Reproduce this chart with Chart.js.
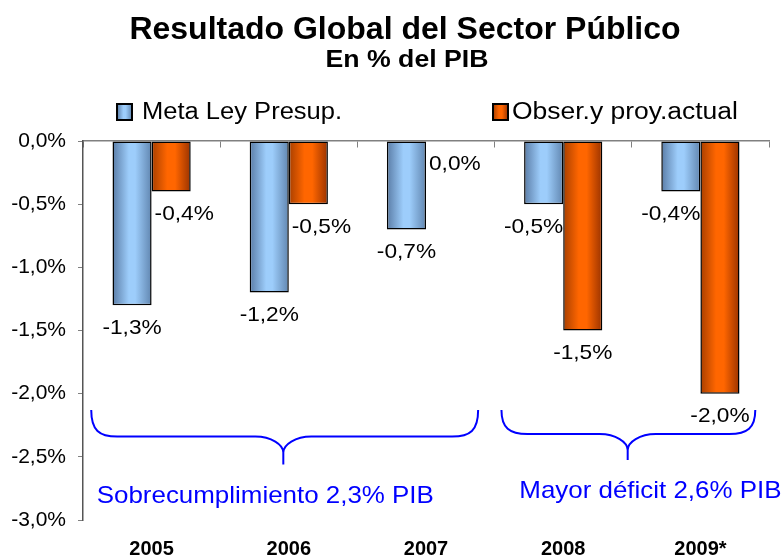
<!DOCTYPE html>
<html>
<head>
<meta charset="utf-8">
<title>Resultado Global del Sector Público</title>
<script src="https://cdn.jsdelivr.net/npm/chart.js@4.4.1/dist/chart.umd.min.js"></script>
<style>
  html, body { margin: 0; padding: 0; background: #fff; }
  #wrap { width: 783px; height: 559px; }
</style>
</head>
<body>
<div id="wrap"><canvas id="chart" width="783" height="559"></canvas></div>
<script>
// data
const years = ['2005', '2006', '2007', '2008', '2009*'];
const metaLey = [-1.3, -1.2, -0.7, -0.5, -0.4];
const observado = [-0.4, -0.5, 0.0, -1.5, -2.0];
const seriesNames = ['Meta Ley Presup.', 'Obser.y proy.actual'];
const yTicks = [0, -0.5, -1.0, -1.5, -2.0, -2.5, -3.0];
const notes = ['Sobrecumplimiento 2,3% PIB', 'Mayor déficit 2,6% PIB'];

const FONT = "'Liberation Sans', Arial, Helvetica, sans-serif";
Chart.defaults.font.family = FONT;
Chart.defaults.color = '#000';

const CAT_PCT = 0.57;
const STRETCH = 1.08; // the original text renders a bit wide
const palette = [
  { stops: [[0, '#5a7ca6'], [0.42, '#9dcdfb'], [0.58, '#9dcdfb'], [1, '#6186b0']], flat: '#99ccff' },
  { stops: [[0, '#a83f00'], [0.4, '#ff6600'], [0.6, '#ff6600'], [1, '#9a3300']], flat: '#ff6600' }
];

const fmt = v => v.toFixed(1).replace('.', ',').replace('-0,0', '0,0') + '%';

function makeGradient(ctx, idx, x0, x1) {
  const g = ctx.createLinearGradient(x0, 0, x1, 0);
  palette[idx].stops.forEach(s => g.addColorStop(s[0], s[1]));
  return g;
}

// text drawn slightly stretched horizontally
function wideText(ctx, text, x, y, align, sx) {
  const w = ctx.measureText(text).width * sx;
  const left = align === 'center' ? x - w / 2 : align === 'right' ? x - w : x;
  ctx.save();
  ctx.textAlign = 'left';
  ctx.translate(left, y);
  ctx.scale(sx, 1);
  ctx.fillText(text, 0, 0);
  ctx.restore();
}

// horizontal gradient per bar, like the Excel fill
function barFill(context) {
  const chart = context.chart;
  const xs = chart.scales.x;
  if (context.type !== 'data' || !xs || !chart.chartArea) {
    return palette[context.datasetIndex].flat;
  }
  const center = xs.getPixelForValue(context.dataIndex);
  const w = xs.width / years.length * CAT_PCT / 2;
  const left = context.datasetIndex === 0 ? center - w : center;
  return makeGradient(chart.ctx, context.datasetIndex, left, left + w);
}

const labelsPlugin = {
  id: 'barLabels',
  afterDatasetsDraw(chart) {
    const ctx = chart.ctx;
    ctx.save();
    ctx.font = '21px ' + FONT;
    ctx.fillStyle = '#000';
    ctx.textBaseline = 'middle';
    chart.data.datasets.forEach((ds, i) => {
      const meta = chart.getDatasetMeta(i);
      const other = chart.data.datasets[1 - i].data;
      meta.data.forEach((bar, j) => {
        const v = ds.data[j];
        const y = bar.y + 23;
        let x = bar.x;
        let align = 'center';
        if (Math.abs(other[j]) > Math.abs(v)) {
          if (i === 0) { align = 'right'; x = bar.x + bar.width / 2; }
          else { align = 'left'; x = bar.x - bar.width / 2 + 3; }
        }
        wideText(ctx, fmt(v), x, y, align, STRETCH);
      });
    });
    ctx.restore();
  }
};

const decorPlugin = {
  id: 'decor',
  afterDraw(chart) {
    const ctx = chart.ctx;
    const xs = chart.scales.x, ys = chart.scales.y;
    const step = xs.width / years.length;
    const px = c => xs.getPixelForValue(0) + c * step;
    const py = v => ys.getPixelForValue(v);
    ctx.save();

    // title + subtitle
    ctx.fillStyle = '#000';
    ctx.textAlign = 'center';
    ctx.textBaseline = 'alphabetic';
    ctx.font = 'bold 32px ' + FONT;
    ctx.fillText('Resultado Global del Sector Público', 405, 39);
    ctx.font = 'bold 23px ' + FONT;
    wideText(ctx, 'En % del PIB', 407, 67, 'center', 1.16);

    // legend
    const legendX = [[117, 142, 1.11], [493, 512, 1.15]];
    ctx.font = '23px ' + FONT;
    ctx.textBaseline = 'middle';
    seriesNames.forEach((name, i) => {
      const [bx, tx, sx] = legendX[i];
      ctx.fillStyle = makeGradient(ctx, i, bx, bx + 15);
      ctx.fillRect(bx, 104, 15, 16);
      ctx.lineWidth = 2;
      ctx.strokeStyle = '#000';
      ctx.strokeRect(bx, 104, 15, 16);
      ctx.fillStyle = '#000';
      wideText(ctx, name, tx, 113, 'left', sx);
    });

    // braces
    ctx.strokeStyle = '#0000ff';
    ctx.lineWidth = 2;
    const brace = (c1, c2, cm, vTop, vMid, vEnd) => {
      const x1 = px(c1), x2 = px(c2), xm = px(cm);
      const yt = py(vTop), ym = py(vMid), ye = py(vEnd);
      ctx.beginPath();
      ctx.moveTo(x1, yt);
      ctx.bezierCurveTo(x1, ym - 6, x1 + 8, ym, x1 + 26, ym);
      ctx.lineTo(xm - 28, ym);
      ctx.bezierCurveTo(xm - 12, ym, xm, ym + 8, xm, ym + 16);
      ctx.lineTo(xm, ye);
      ctx.moveTo(xm, ym + 16);
      ctx.bezierCurveTo(xm, ym + 8, xm + 12, ym, xm + 28, ym);
      ctx.lineTo(x2 - 26, ym);
      ctx.bezierCurveTo(x2 - 8, ym, x2, ym - 6, x2, yt);
      ctx.stroke();
    };
    brace(-0.44, 2.38, 0.96, -2.13, -2.34, -2.56);
    brace(2.55, 4.4, 3.47, -2.13, -2.32, -2.525);

    // notes under the braces
    ctx.fillStyle = '#0000ff';
    ctx.font = '24px ' + FONT;
    ctx.textBaseline = 'alphabetic';
    wideText(ctx, notes[0], px(-0.40), py(-2.865), 'left', STRETCH);
    wideText(ctx, notes[1], px(2.68), py(-2.826), 'left', STRETCH);
    ctx.restore();
  }
};

new Chart(document.getElementById('chart'), {
  type: 'bar',
  data: {
    labels: years,
    datasets: [
      {
        label: seriesNames[0],
        data: metaLey,
        backgroundColor: barFill,
        borderColor: '#000',
        borderWidth: 1.5,
        borderSkipped: false
      },
      {
        label: seriesNames[1],
        data: observado,
        backgroundColor: barFill,
        borderColor: '#000',
        borderWidth: ctx => (ctx.raw === 0 ? 0 : 1.5),
        borderSkipped: false
      }
    ]
  },
  options: {
    responsive: false,
    animation: false,
    devicePixelRatio: 1,
    categoryPercentage: CAT_PCT,
    barPercentage: 1,
    layout: { padding: { top: 141, right: 14, left: 0, bottom: 0 } },
    plugins: {
      legend: { display: false },
      title: { display: false },
      tooltip: { enabled: false }
    },
    scales: {
      x: {
        type: 'category',
        position: { y: 0 },
        offset: true,
        ticks: { display: false },
        grid: { drawOnChartArea: false, offset: true, tickLength: 6, color: '#808080' },
        border: { color: '#808080', width: 1.5 }
      },
      xb: {
        type: 'category',
        position: 'bottom',
        labels: years,
        offset: true,
        grid: { display: false, drawTicks: false },
        border: { display: false },
        ticks: { padding: 17, font: { size: 20, weight: 'bold' }, color: '#000' },
        afterFit: s => { s.height = 39; }
      },
      y: {
        min: -3,
        max: 0,
        afterBuildTicks: s => { s.ticks = yTicks.map(v => ({ value: v })); },
        ticks: { padding: 12, font: { size: 21 }, color: '#000', callback: v => fmt(v) },
        grid: { drawOnChartArea: false, tickLength: 5, color: '#808080' },
        border: { color: '#555', width: 1.5 },
        afterFit: s => { s.width = 83; }
      }
    }
  },
  plugins: [labelsPlugin, decorPlugin]
});
</script>
</body>
</html>
